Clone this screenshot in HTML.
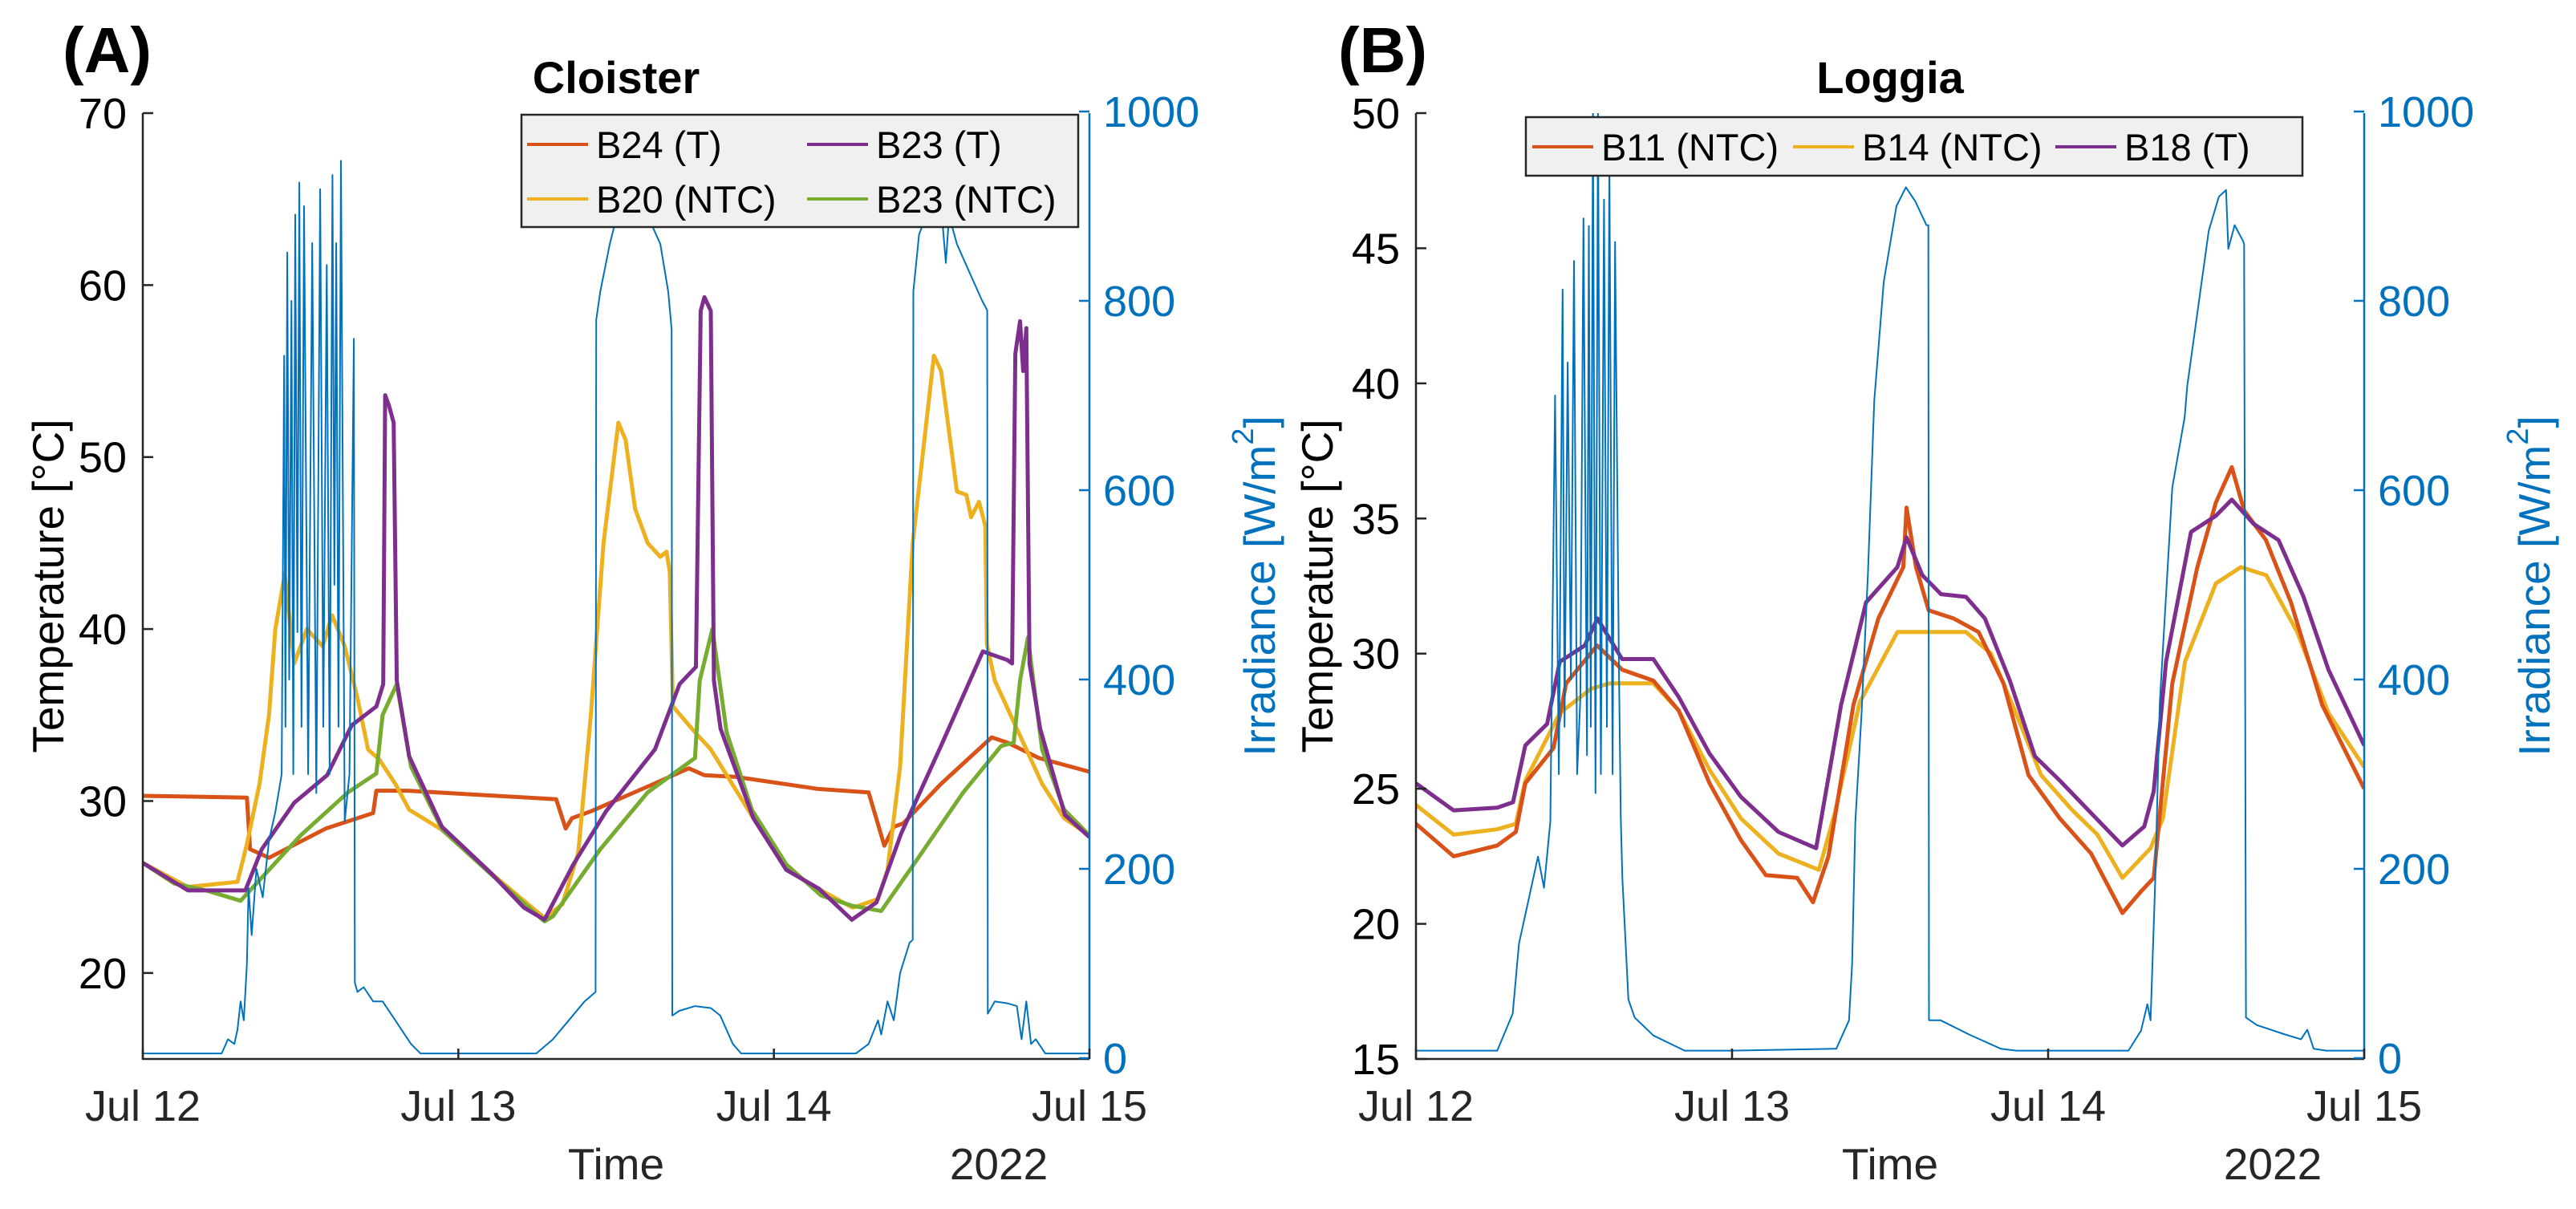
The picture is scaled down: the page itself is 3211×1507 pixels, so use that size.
<!DOCTYPE html>
<html><head><meta charset="utf-8">
<style>
html,body{margin:0;padding:0;background:#fff;}
svg{display:block;font-family:"Liberation Sans",Arial,sans-serif;}
</style></head>
<body>
<svg id="fig" xmlns="http://www.w3.org/2000/svg" width="3211" height="1507" viewBox="0 0 3211 1507">
<defs>
<clipPath id="clipA"><rect x="178" y="141" width="1180" height="1180"/></clipPath>
<clipPath id="clipB"><rect x="1765" y="141" width="1182" height="1180"/></clipPath>
</defs>
<rect x="0" y="0" width="3211" height="1507" fill="#fff"/>
<g id="panelA"></g>
<g id="panelB"></g>
</svg>
<script>
// ===== Panel A (Cloister) data: time in days since Jul 12, values in °C / W/m2 =====
const dayTicks = [0, 1, 2, 3];
const dayLabels = ["Jul 12", "Jul 13", "Jul 14", "Jul 15"];
const aTempTicks = [20, 30, 40, 50, 60, 70];
const bTempTicks = [15, 20, 25, 30, 35, 40, 45, 50];
const irrTicks = [0, 200, 400, 600, 800, 1000];

const aB24T_t = [0,0.33,0.34,0.40,0.58,0.73,0.74,0.84,1.31,1.34,1.36,1.42,1.62,1.73,1.78,1.88,2.14,2.30,2.35,2.38,2.41,2.53,2.69,2.74,2.84,3.0];
const aB24T_v = [30.3,30.2,27.2,26.7,28.4,29.3,30.6,30.6,30.1,28.4,29.0,29.4,31.0,31.9,31.5,31.4,30.7,30.5,27.4,28.5,28.7,31.0,33.7,33.4,32.5,31.7];

const aB23T_t = [0,0.143,0.325,0.377,0.48,0.584,0.662,0.74,0.762,0.768,0.78,0.795,0.805,0.844,0.948,1.104,1.208,1.273,1.364,1.468,1.623,1.701,1.753,1.768,1.78,1.80,1.81,1.831,1.935,2.039,2.143,2.247,2.325,2.403,2.532,2.662,2.74,2.755,2.765,2.78,2.79,2.80,2.81,2.844,2.922,3.0];
const aB23T_v = [26.4,24.8,24.8,27.2,29.9,31.5,34.4,35.5,36.8,53.6,53.0,52.0,37.0,32.6,28.5,25.8,23.8,23.1,26.3,29.4,33.0,36.8,37.8,58.5,59.3,58.5,37.0,34.2,29.0,26.0,24.9,23.1,24.1,28.1,33.3,38.7,38.2,38.0,56.0,57.9,55.0,57.5,38.0,34.2,29.2,27.9];

const aB20N_t = [0,0.143,0.30,0.33,0.37,0.40,0.42,0.45,0.48,0.52,0.57,0.60,0.64,0.68,0.714,0.75,0.80,0.844,0.95,1.104,1.273,1.33,1.38,1.42,1.46,1.507,1.53,1.56,1.60,1.64,1.66,1.67,1.68,1.75,1.80,1.935,2.04,2.15,2.25,2.33,2.36,2.40,2.44,2.507,2.53,2.58,2.61,2.625,2.65,2.67,2.675,2.70,2.75,2.80,2.85,2.92,3.0];
const aB20N_v = [26.4,25.0,25.3,27.5,31.0,35.0,40.0,43.2,38.0,40.0,39.0,40.8,39.0,36.0,33.0,32.4,31.0,29.5,28.3,25.8,23.2,24.0,27.0,35.0,45.0,52.0,51.0,47.0,45.0,44.2,44.5,43.3,35.5,34.0,33.0,29.0,26.0,24.8,23.8,24.3,26.0,32.0,45.0,55.9,55.0,48.0,47.8,46.5,47.4,46.0,39.1,37.0,35.0,33.0,31.0,29.0,28.0];

const aB23N_t = [0,0.1,0.2,0.31,0.35,0.5,0.65,0.74,0.76,0.805,0.85,0.95,1.10,1.273,1.30,1.45,1.6,1.75,1.765,1.805,1.85,1.93,2.04,2.15,2.25,2.34,2.45,2.60,2.72,2.76,2.78,2.805,2.85,2.92,3.0];
const aB23N_v = [26.4,25.2,24.8,24.2,25.0,28.0,30.5,31.6,35.0,36.8,32.0,28.3,25.8,23.0,23.3,27.2,30.5,32.5,37.0,40.0,34.0,29.5,26.3,24.5,23.9,23.6,26.5,30.5,33.2,33.4,37.0,39.5,33.0,29.5,28.0];

const aIrr_t = [0,0.25,0.27,0.29,0.30,0.31,0.32,0.33,0.335,0.345,0.36,0.38,0.40,0.42,0.44,0.448,0.452,0.458,0.464,0.471,0.477,0.483,0.49,0.496,0.503,0.511,0.524,0.537,0.55,0.562,0.572,0.583,0.592,0.601,0.607,0.613,0.62,0.628,0.64,0.655,0.669,0.672,0.68,0.70,0.73,0.76,0.80,0.85,0.88,1.0,1.247,1.30,1.35,1.40,1.435,1.437,1.45,1.48,1.51,1.53,1.56,1.60,1.64,1.665,1.676,1.678,1.70,1.75,1.80,1.83,1.87,1.896,2.0,2.26,2.30,2.33,2.34,2.36,2.38,2.40,2.43,2.44,2.442,2.46,2.50,2.53,2.545,2.555,2.58,2.62,2.66,2.676,2.678,2.70,2.74,2.77,2.785,2.80,2.815,2.83,2.86,3.0];
const aIrr_v = [5,5,20,15,30,60,40,100,180,130,200,170,230,260,300,742,350,851,400,800,300,891,450,925,350,900,300,861,280,918,350,838,300,933,500,861,350,948,250,300,760,80,70,75,60,60,40,15,5,5,5,20,40,60,70,780,810,860,900,910,905,890,860,810,770,45,50,55,53,45,15,5,5,5,15,40,25,60,40,90,122,125,810,870,905,900,840,890,860,830,800,790,47,60,58,55,20,60,15,20,5,5];

// ===== Panel B (Loggia) data =====
const bB11_t = [0,0.119,0.257,0.316,0.346,0.435,0.475,0.573,0.653,0.751,0.831,0.929,1.028,1.107,1.206,1.256,1.305,1.384,1.463,1.542,1.552,1.582,1.622,1.701,1.780,1.859,1.938,2.037,2.136,2.235,2.294,2.334,2.393,2.472,2.531,2.581,2.620,2.689,2.768,2.867,3.0];
const bB11_v = [23.7,22.5,22.9,23.4,25.2,26.5,28.9,30.3,29.4,29.0,27.9,25.2,23.1,21.8,21.7,20.8,22.5,28.1,31.3,33.2,35.4,33.2,31.6,31.3,30.8,28.9,25.5,23.9,22.6,20.4,21.2,21.7,28.9,33.2,35.6,36.9,35.3,34.2,31.9,28.1,25.0];
const bB14_t = [0,0.119,0.257,0.316,0.346,0.455,0.554,0.613,0.751,0.831,0.929,1.028,1.147,1.275,1.325,1.404,1.523,1.641,1.740,1.819,1.898,1.978,2.077,2.156,2.235,2.324,2.363,2.433,2.531,2.610,2.690,2.788,2.887,3.0];
const bB14_v = [24.4,23.3,23.5,23.7,25.3,27.8,28.7,28.9,28.9,27.9,25.7,23.9,22.6,22.0,24.1,28.2,30.8,30.8,30.8,30.0,27.8,25.5,24.2,23.3,21.7,22.8,23.9,29.7,32.6,33.2,32.9,30.8,27.8,25.8];
const bB18_t = [0,0.119,0.257,0.307,0.346,0.415,0.455,0.534,0.574,0.652,0.751,0.831,0.929,1.028,1.147,1.266,1.345,1.424,1.523,1.552,1.602,1.661,1.740,1.800,1.879,1.958,2.037,2.136,2.235,2.304,2.334,2.373,2.452,2.531,2.581,2.650,2.729,2.808,2.887,3.0];
const bB18_v = [25.2,24.2,24.3,24.5,26.6,27.4,29.7,30.3,31.3,29.8,29.8,28.4,26.3,24.7,23.4,22.8,28.1,31.9,33.2,34.3,32.9,32.2,32.1,31.3,29.0,26.2,25.3,24.1,22.9,23.6,24.9,29.7,34.5,35.1,35.7,34.8,34.2,32.1,29.4,26.6];
const bIrr_t = [0,0.257,0.306,0.326,0.356,0.386,0.405,0.425,0.44,0.452,0.464,0.47,0.48,0.49,0.50,0.510,0.52,0.53,0.541,0.547,0.553,0.56,0.568,0.576,0.585,0.595,0.604,0.612,0.622,0.63,0.642,0.648,0.653,0.672,0.692,0.751,0.850,0.909,1.0,1.33,1.37,1.38,1.39,1.41,1.43,1.45,1.48,1.52,1.55,1.58,1.615,1.621,1.623,1.66,1.75,1.85,1.90,2.0,2.254,2.294,2.314,2.324,2.339,2.353,2.393,2.432,2.44,2.508,2.54,2.563,2.57,2.59,2.617,2.620,2.626,2.66,2.75,2.80,2.82,2.84,2.88,3.0];
const bIrr_v = [8,8,47,121,167,213,180,250,700,300,812,350,735,400,842,300,380,887,320,879,350,1000,280,1000,300,907,350,950,300,862,420,254,190,62,43,24,8,8,8,10,40,100,250,365,512,695,820,900,920,905,880,880,40,40,25,10,8,8,8,29,57,40,190,374,603,677,710,874,910,917,855,880,863,860,43,35,25,20,30,10,8,8];

// ===== Scales =====
const A = {x0:178, x1:1358, yTop:141, yBot:1320, tMin:15, tMax:70};
const B = {x0:1765, x1:2947, yTop:141, yBot:1320, tMin:15, tMax:50};
function xS(p, d){ return p.x0 + d/3*(p.x1-p.x0); }
function yT(p, t){ return p.yBot - (t-p.tMin)/(p.tMax-p.tMin)*(p.yBot-p.yTop); }
function yI(v){ return 1319 - v/1000*(1319-139); }

const NS = "http://www.w3.org/2000/svg";
function mk(parent, tag, attrs, text){
  const e = document.createElementNS(NS, tag);
  for (const k in attrs) e.setAttribute(k, attrs[k]);
  if (text !== undefined) e.textContent = text;
  parent.appendChild(e);
  return e;
}
function linePath(p, ts, vs, yfun){
  let d = "";
  for (let i=0;i<ts.length;i++){
    d += (i?"L":"M") + xS(p, ts[i]).toFixed(1) + "," + yfun(vs[i]).toFixed(1);
  }
  return d;
}

const COL = {orange:"#D95319", yellow:"#EDB120", purple:"#7E2F8E", green:"#77AC30", blue:"#0072BD", ax:"#262626"};

function drawPanel(gid, p, clipId, tempTicks, series, irrT, irrV, title, letter, letterX, ylabX, irrLabX, legend){
  const g = document.getElementById(gid);
  const plot = mk(g, "g", {"clip-path":"url(#"+clipId+")"});
  
  
  series.forEach(s=>{
    const path = mk(plot, "path", {d: linePath(p, s.t, s.v, v=>yT(p,v)), fill:"none", stroke:s.c, "stroke-width":5, "stroke-linejoin":"round"});
    
    
  });
  const ip = mk(plot, "path", {d: linePath(p, irrT, irrV, yI), fill:"none", stroke:COL.blue, "stroke-width":2, "stroke-linejoin":"round"});
  
  

  const ax = mk(g, "g", {});
  
  
  mk(ax, "line", {x1:p.x0, y1:p.yTop, x2:p.x0, y2:p.yBot+1, stroke:COL.ax, "stroke-width":2.5});
  mk(ax, "line", {x1:p.x0, y1:p.yBot, x2:p.x1, y2:p.yBot, stroke:COL.ax, "stroke-width":2.5});
  mk(ax, "line", {x1:p.x1, y1:p.yTop, x2:p.x1, y2:p.yBot, stroke:COL.blue, "stroke-width":2.5});
  tempTicks.forEach(t=>{
    const y = yT(p,t);
    mk(ax, "line", {x1:p.x0, y1:y, x2:p.x0+13, y2:y, stroke:COL.ax, "stroke-width":2.5});
    const lb = mk(ax, "text", {x:p.x0-20, y:y+19, "text-anchor":"end", "font-size":54, fill:"#000"}, String(t));
    
    
  });
  irrTicks.forEach(v=>{
    const y = yI(v);
    mk(ax, "line", {x1:p.x1-13, y1:y, x2:p.x1, y2:y, stroke:COL.blue, "stroke-width":2.5});
    const lb = mk(ax, "text", {x:p.x1+17, y:y+19, "text-anchor":"start", "font-size":54, fill:COL.blue}, String(v));
    
    
  });
  dayTicks.forEach((d,i)=>{
    const x = xS(p,d);
    mk(ax, "line", {x1:x, y1:p.yBot-13, x2:x, y2:p.yBot, stroke:COL.ax, "stroke-width":2.5});
    const lb = mk(ax, "text", {x:x, y:1397, "text-anchor":"middle", "font-size":54, fill:"#262626"}, dayLabels[i]);
    
    
  });
  const cx = (p.x0+p.x1)/2;
  const xt = mk(g, "text", {x:cx, y:1470, "text-anchor":"middle", "font-size":55, fill:"#262626"}, "Time");
  
  
  const yr = mk(g, "text", {x:cx+477, y:1470, "text-anchor":"middle", "font-size":55, fill:"#262626"}, "2022");
  
  
  const ym = (p.yTop+p.yBot)/2;
  const yl = mk(g, "text", {x:ylabX, y:ym, "text-anchor":"middle", "font-size":55, fill:"#000", "dominant-baseline":"central", transform:"rotate(-90 "+ylabX+" "+ym+")"}, "Temperature [°C]");
  
  
  const il = mk(g, "text", {x:irrLabX, y:ym, "text-anchor":"middle", "font-size":55, fill:COL.blue, "dominant-baseline":"central", transform:"rotate(-90 "+irrLabX+" "+ym+")"});
  
  
  mk(il, "tspan", {}, "Irradiance [W/m");
  mk(il, "tspan", {"font-size":38, dy:-20}, "2");
  mk(il, "tspan", {dy:20}, "]");
  const tt = mk(g, "text", {x:cx, y:116, "text-anchor":"middle", "font-size":56, "font-weight":"bold", fill:"#000"}, title);
  
  
  const lt = mk(g, "text", {x:letterX, y:90, "font-size":80, "font-weight":"bold", fill:"#000"}, letter);
  
  

  const lg = mk(g, "g", {});
  
  
  mk(lg, "rect", {x:legend.x, y:legend.y, width:legend.w, height:legend.h, fill:"#F0F0F0", stroke:COL.ax, "stroke-width":2.5});
  legend.items.forEach(it=>{
    const e = mk(lg, "g", {});
    
    
    mk(e, "line", {x1:it.x, y1:it.ly, x2:it.x+76, y2:it.ly, stroke:it.c, "stroke-width":4});
    mk(e, "text", {x:it.x+86, y:it.ty, "font-size":47, fill:"#000"}, it.label);
  });
}

drawPanel("panelA", A, "clipA", aTempTicks, [
  {t:aB24T_t, v:aB24T_v, c:COL.orange, name:"b24-t-line"},
  {t:aB20N_t, v:aB20N_v, c:COL.yellow, name:"b20-ntc-line"},
  {t:aB23N_t, v:aB23N_v, c:COL.green, name:"b23-ntc-line"},
  {t:aB23T_t, v:aB23T_v, c:COL.purple, name:"b23-t-line"}
], aIrr_t, aIrr_v, "Cloister", "(A)", 78, 60, 1570,
  {x:650, y:143, w:694, h:140, items:[
    {x:657, ly:180, ty:197, c:COL.orange, label:"B24 (T)"},
    {x:1006, ly:180, ty:197, c:COL.purple, label:"B23 (T)"},
    {x:657, ly:248, ty:265, c:COL.yellow, label:"B20 (NTC)"},
    {x:1006, ly:248, ty:265, c:COL.green, label:"B23 (NTC)"}
  ]});

drawPanel("panelB", B, "clipB", bTempTicks, [
  {t:bB14_t, v:bB14_v, c:COL.yellow, name:"b14-ntc-line"},
  {t:bB11_t, v:bB11_v, c:COL.orange, name:"b11-ntc-line"},
  {t:bB18_t, v:bB18_v, c:COL.purple, name:"b18-t-line"}
], bIrr_t, bIrr_v, "Loggia", "(B)", 1668, 1642, 3159,
  {x:1902, y:146, w:968, h:73, items:[
    {x:1910, ly:183, ty:200, c:COL.orange, label:"B11 (NTC)"},
    {x:2235, ly:183, ty:200, c:COL.yellow, label:"B14 (NTC)"},
    {x:2562, ly:183, ty:200, c:COL.purple, label:"B18 (T)"}
  ]});
</script>
</body></html>
